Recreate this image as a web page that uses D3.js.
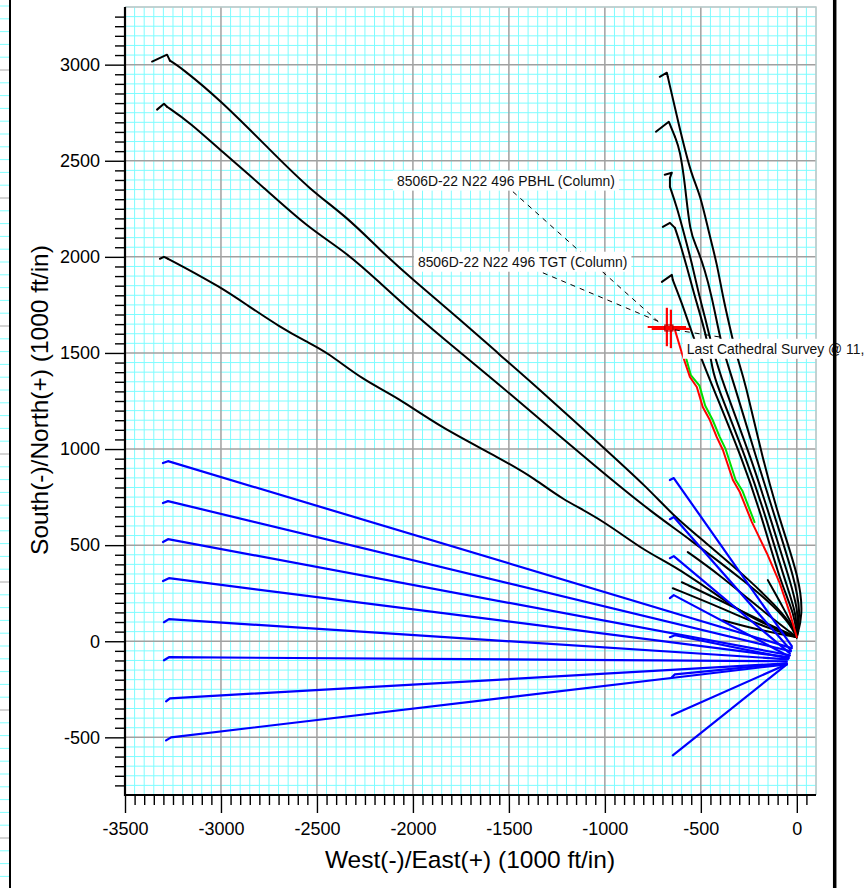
<!DOCTYPE html>
<html><head><meta charset="utf-8">
<script src="https://cdn.jsdelivr.net/npm/d3@7/dist/d3.min.js"></script>
<style>
body{margin:0;background:#fff;}
svg{display:block;font-family:"Liberation Sans",Arial,Helvetica,sans-serif;}
</style>
</head><body>
<svg id="c" width="865" height="888"></svg>
<script>
// ---------- axes ----------
const xDomain = [-3500, 100];
const yDomain = [-800, 3300];
const xMajorTicks = [-3500, -3000, -2500, -2000, -1500, -1000, -500, 0];
const yMajorTicks = [-500, 0, 500, 1000, 1500, 2000, 2500, 3000];
const xTickLabels = ["-3500", "-3000", "-2500", "-2000", "-1500", "-1000", "-500", "0"];
const yTickLabels = ["-500", "0", "500", "1000", "1500", "2000", "2500", "3000"];
const xTitle = "West(-)/East(+) (1000 ft/in)";
const yTitle = "South(-)/North(+) (1000 ft/in)";

// ---------- black well paths (E, N in ft); first `hook` points are the short hook ----------
const wellA = [[-3359,3016],[-3281,3052],[-3266,3021],[-3215,2990],[-3005,2818],[-2745,2557],[-2536,2349],[-2344,2208],[-2172,2036],[-2000,1880],[-1771,1688],[-1547,1490],[-1354,1323],[-1010,1010],[-781,802],[-646,656],[-490,526],[-245,318],[-115,188],[-36,99],[0,21]];
const wellB = [[-3333,2766],[-3297,2797],[-3281,2781],[-3161,2698],[-3000,2552],[-2781,2365],[-2552,2156],[-2344,2021],[-2172,1865],[-2000,1708],[-1771,1516],[-1547,1333],[-1010,875],[-750,667],[-573,542],[-245,292],[-115,177],[-36,89],[0,21]];
const wellC = [[-3318,1990],[-3297,2000],[-3276,1990],[-3214,1958],[-3005,1844],[-2865,1750],[-2693,1635],[-2552,1557],[-2448,1505],[-2260,1359],[-2083,1271],[-1859,1115],[-1547,953],[-1354,839],[-1234,745],[-1010,630],[-802,474],[-625,385],[-401,229],[-245,125],[-115,68],[0,21]];
const wellD = [[-714,2937],[-677,2958],[-672,2937],[-609,2661],[-547,2417],[-505,2333],[-453,2104],[-417,1969],[-385,1792],[-349,1635],[-313,1479],[-271,1359],[-177,943],[-89,630],[16,318],[31,135],[0,21]];
const wellE = [[-734,2651],[-667,2703],[-635,2625],[-609,2557],[-583,2385],[-557,2125],[-521,2052],[-479,1932],[-443,1792],[-411,1635],[-385,1516],[-333,1359],[-208,943],[-109,630],[-10,318],[20,150],[0,21]];
const wellF = [[-688,2427],[-651,2438],[-661,2411],[-661,2365],[-625,2260],[-583,2104],[-547,1969],[-516,1828],[-479,1688],[-437,1516],[-391,1359],[-234,943],[-135,630],[-36,318],[10,150],[0,21]];
const wellG = [[-698,2156],[-661,2177],[-635,2151],[-609,2073],[-573,1948],[-531,1792],[-495,1672],[-464,1552],[-437,1411],[-427,1359],[-260,943],[-156,630],[-63,318],[0,140],[0,21]];
const wellH = [[-703,1870],[-651,1906],[-646,1880],[-599,1760],[-557,1635],[-505,1490],[-453,1359],[-281,943],[-177,630],[-89,318],[-10,135],[0,21]];
const wellS1 = [[-568,464],[-401,344],[-245,214],[-115,109],[0,21]];
const wellS2 = [[-599,307],[-401,214],[-193,109],[0,21]];
const wellS3 = [[-646,276],[-401,177],[-193,83],[0,21]];
const wellS4 = [[-385,109],[-193,57],[0,21]];
const wellS5 = [[-151,318],[-63,161],[-10,57],[0,21]];
const blackWells = [
  {pts: wellA, hook: 3}, {pts: wellB, hook: 3}, {pts: wellC, hook: 3},
  {pts: wellD, hook: 3}, {pts: wellE, hook: 3}, {pts: wellF, hook: 4},
  {pts: wellG, hook: 3}, {pts: wellH, hook: 3},
  {pts: wellS1, hook: 1}, {pts: wellS2, hook: 1}, {pts: wellS3, hook: 1},
  {pts: wellS4, hook: 1}, {pts: wellS5, hook: 1}
];

// ---------- blue well paths ----------
const blueL1 = [[-3302,927],[-3276,937],[-26,-36]];
const blueL2 = [[-3302,719],[-3276,729],[-31,-52]];
const blueL3 = [[-3302,516],[-3276,531],[-36,-73]];
const blueL4 = [[-3302,313],[-3271,328],[-42,-83]];
const blueL5 = [[-3297,99],[-3271,115],[-47,-94]];
const blueL6 = [[-3297,-99],[-3271,-83],[-52,-104]];
const blueL7 = [[-3286,-313],[-3266,-297],[-52,-115]];
const blueL8 = [[-3286,-516],[-3260,-500],[-52,-120]];
const blueR1 = [[-661,839],[-641,849],[-26,-26]];
const blueR2 = [[-661,635],[-641,646],[-31,-47]];
const blueR3 = [[-661,432],[-641,443],[-36,-63]];
const blueR4 = [[-661,224],[-641,240],[-42,-78]];
const blueR5 = [[-661,21],[-635,31],[-42,-89]];
const blueR6 = [[-651,-188],[-635,-172],[-52,-115]];
const blueR7 = [[-651,-385],[-52,-120]];
const blueR8 = [[-646,-594],[-52,-120]];

// ---------- subject well: plan (green) and actual (red) ----------
const planGreen = [[-595,1510],[-560,1385],[-515,1330],[-485,1225],[-448,1155],[-410,1065],[-378,998],[-327,840],[-290,780],[-228,620]];
const actualRed = [[-661,1635],[-635,1620],[-599,1500],[-557,1375],[-521,1323],[-490,1219],[-453,1151],[-417,1062],[-385,995],[-333,839],[-297,776],[-234,620],[-156,458],[-89,302],[-36,146],[0,21]];

// targets (cross markers)
const targets = [[-677,1635],[-656,1625]];
const targetHalf = 100;

// annotations: text, text left/centre anchor (ft), leader from -> to (ft)
const annotations = [
  {text:"8506D-22 N22 496 PBHL (Column)", at:[-2083,2396], from:[-1479,2339], to:[-714,1656]},
  {text:"8506D-22 N22 496 TGT (Column)",  at:[-1974,1974], from:[-1323,1917], to:[-714,1661]},
  {text:"Last Cathedral Survey @ 11,",    at:[-573,1521],  from:[-635,1620],  to:[-401,1583]}
];

// ---------- drawing ----------
const svg = d3.select("#c");
const x = d3.scaleLinear().domain(xDomain).range([125, 816]);
const y = d3.scaleLinear().domain(yDomain).range([795, 7]);

// left strip remnant (neighbouring panel)
const strip = svg.append("g");
for (let n = -5; n < 64; n++) {
  const yy = 70 + 12.8 * n;
  if (yy < 0 || yy > 888) continue;
  strip.append("line").attr("x1",0).attr("x2",9).attr("y1",yy).attr("y2",yy)
    .attr("stroke", n % 10 === 0 ? "#a8a8a8" : "#80ffff").attr("stroke-width",1);
}
strip.append("line").attr("x1",10).attr("x2",10).attr("y1",0).attr("y2",888)
  .attr("stroke","#000").attr("stroke-width",2);

// grid
const grid = svg.append("g");
const xs = d3.range(xDomain[0], xDomain[1] + 1, 50);
const ys = d3.range(yDomain[0], yDomain[1] + 1, 50);
xs.filter(v => v % 500 !== 0).forEach(v => grid.append("line")
  .attr("x1", x(v)).attr("x2", x(v)).attr("y1", y(yDomain[0])).attr("y2", y(yDomain[1]))
  .attr("stroke", "#7ffcff").attr("stroke-width", 1));
ys.filter(v => v % 500 !== 0).forEach(v => grid.append("line")
  .attr("y1", y(v)).attr("y2", y(v)).attr("x1", x(xDomain[0])).attr("x2", x(xDomain[1]))
  .attr("stroke", "#7ffcff").attr("stroke-width", 1));
xs.filter(v => v % 500 === 0).forEach(v => grid.append("line")
  .attr("x1", x(v)).attr("x2", x(v)).attr("y1", y(yDomain[0])).attr("y2", y(yDomain[1]))
  .attr("stroke", "#a0a0a0").attr("stroke-width", 1.5));
ys.filter(v => v % 500 === 0).forEach(v => grid.append("line")
  .attr("y1", y(v)).attr("y2", y(v)).attr("x1", x(xDomain[0])).attr("x2", x(xDomain[1]))
  .attr("stroke", "#a0a0a0").attr("stroke-width", 1.5));
grid.append("path").attr("d", `M${x(xDomain[0])},${y(yDomain[1])}H${x(xDomain[1])}V${y(yDomain[0])}`)
  .attr("fill","none").attr("stroke","#c4c4c4").attr("stroke-width",1.5);

// axes
const xMinor = d3.range(-3450, 100, 50).filter(v => v % 500 !== 0);
const yMinor = d3.range(-750, 3300, 50).filter(v => v % 500 !== 0);
function styleAxis(g, fs) {
  g.select(".domain").remove();
  g.selectAll(".tick line").attr("stroke", "#000").attr("stroke-width", 1.4);
  g.selectAll("text").attr("font-size", fs).attr("fill", "#000")
    .attr("font-family", '"Liberation Sans",Arial,sans-serif');
}
svg.append("g").attr("transform", `translate(0,${y(yDomain[0])})`)
  .call(d3.axisBottom(x).tickValues(xMinor).tickSize(10).tickFormat(""))
  .call(g => styleAxis(g, 18));
svg.append("g").attr("transform", `translate(0,${y(yDomain[0])})`)
  .call(d3.axisBottom(x).tickValues(xMajorTicks).tickSize(18).tickPadding(9)
    .tickFormat((d, i) => xTickLabels[i]))
  .call(g => styleAxis(g, 18));
svg.append("g").attr("transform", `translate(${x(xDomain[0])},0)`)
  .call(d3.axisLeft(y).tickValues(yMinor).tickSize(10).tickFormat(""))
  .call(g => styleAxis(g, 18));
svg.append("g").attr("transform", `translate(${x(xDomain[0])},0)`)
  .call(d3.axisLeft(y).tickValues(yMajorTicks).tickSize(20).tickPadding(5)
    .tickFormat((d, i) => yTickLabels[i]))
  .call(g => styleAxis(g, 18));
svg.append("line").attr("x1", x(xDomain[0])).attr("x2", x(xDomain[0]))
  .attr("y1", y(yDomain[1])).attr("y2", y(yDomain[0]) + 1).attr("stroke", "#000").attr("stroke-width", 2.2);
svg.append("line").attr("x1", x(xDomain[0]) - 1).attr("x2", x(xDomain[1]))
  .attr("y1", y(yDomain[0])).attr("y2", y(yDomain[0])).attr("stroke", "#000").attr("stroke-width", 2.2);

// titles
svg.append("text").attr("x", 470).attr("y", 868).attr("text-anchor", "middle")
  .attr("font-size", 24.5).attr("fill", "#000").text(xTitle);
svg.append("text").attr("transform", "translate(48,400) rotate(-90)").attr("text-anchor", "middle")
  .attr("font-size", 24.5).attr("fill", "#000").text(yTitle);

// well paths
const basis = d3.line().x(d => x(d[0])).y(d => y(d[1])).curve(d3.curveBasis);
const straight = d3.line().x(d => x(d[0])).y(d => y(d[1]));
const paths = svg.append("g").attr("fill", "none").attr("stroke-linejoin", "round").attr("stroke-linecap", "round");
blackWells.forEach(w => {
  if (w.hook > 1) paths.append("path").attr("d", straight(w.pts.slice(0, w.hook)))
    .attr("stroke", "#000").attr("stroke-width", 2);
  paths.append("path").attr("d", basis(w.pts.slice(w.hook - 1)))
    .attr("stroke", "#000").attr("stroke-width", 2);
});
[blueL1, blueL2, blueL3, blueL4, blueL5, blueL6, blueL7, blueL8, blueR1, blueR2, blueR3, blueR4, blueR5, blueR6, blueR7, blueR8]
  .forEach(p => paths.append("path").attr("d", straight(p)).attr("stroke", "#0000ff").attr("stroke-width", 2.2));
paths.append("path").attr("d", straight(planGreen)).attr("stroke", "#00e000").attr("stroke-width", 2)
  .attr("transform", "translate(1.5,0)");
paths.append("path").attr("d", straight(actualRed)).attr("stroke", "#ff0000").attr("stroke-width", 2);

// target crosses
const tg = svg.append("g").attr("stroke", "#ff0000").attr("stroke-width", 2.2);
targets.forEach(t => {
  tg.append("line").attr("x1", x(t[0] - targetHalf)).attr("x2", x(t[0] + targetHalf))
    .attr("y1", y(t[1])).attr("y2", y(t[1]));
  tg.append("line").attr("x1", x(t[0])).attr("x2", x(t[0]))
    .attr("y1", y(t[1] - targetHalf)).attr("y2", y(t[1] + targetHalf));
});
tg.append("rect").attr("x", x(targets[0][0]) - 2).attr("y", y(targets[0][1]) - 2)
  .attr("width", x(targets[1][0]) - x(targets[0][0]) + 4).attr("height", y(targets[1][1]) - y(targets[0][1]) + 4)
  .attr("fill", "none").attr("stroke", "#b00000").attr("stroke-width", 1.2);

// annotations
const ann = svg.append("g");
annotations.forEach(a => {
  ann.append("line").attr("x1", x(a.from[0])).attr("y1", y(a.from[1]))
    .attr("x2", x(a.to[0])).attr("y2", y(a.to[1]))
    .attr("stroke", "#000").attr("stroke-width", 1).attr("stroke-dasharray", "5,5");
});
annotations.forEach(a => {
  const g = ann.append("g");
  const t = g.append("text").attr("x", x(a.at[0])).attr("y", y(a.at[1]))
    .attr("dy", "0.35em").attr("font-size", 13.9).attr("fill", "#111").text(a.text);
  const b = t.node().getBBox();
  g.insert("rect", "text").attr("x", b.x - 4).attr("y", b.y - 2)
    .attr("width", b.width + 8).attr("height", b.height + 4).attr("fill", "#fff");
});

// right neighbour border
svg.append("line").attr("x1", 834.7).attr("x2", 834.7).attr("y1", 0).attr("y2", 888)
  .attr("stroke", "#000").attr("stroke-width", 3.5);
</script>
</body></html>
